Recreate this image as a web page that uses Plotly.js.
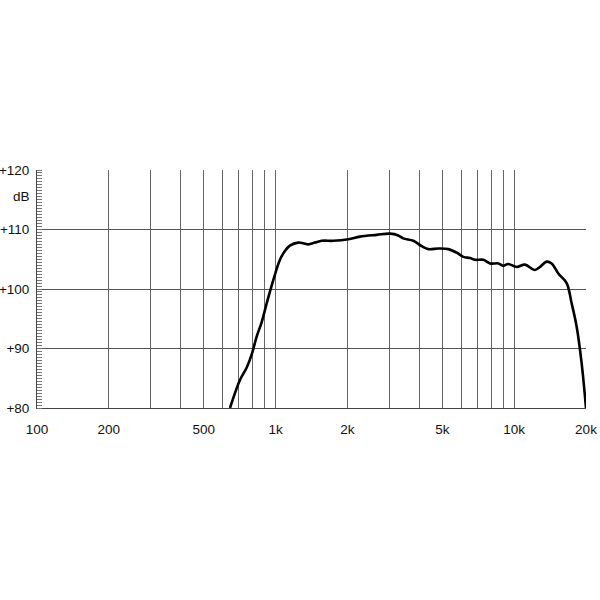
<!DOCTYPE html>
<html>
<head>
<meta charset="utf-8">
<script src="https://cdn.plot.ly/plotly-3.0.1.min.js"></script>
<style>html,body{margin:0;padding:0;background:#fff;}#chart{width:600px;height:600px;}</style>
</head>
<body>
<div id="chart"></div>
<script>
// Frequency response (Hz) and level (dB)
const freq = [644, 709, 757, 794, 833, 874, 918, 978, 1043, 1094, 1148, 1245, 1306, 1372, 1463, 1561, 1746, 2018, 2259, 2654, 3016, 3268, 3428, 3777, 4095, 4366, 4810, 5297, 5745, 6124, 6532, 6855, 7430, 7925, 8580, 8998, 9441, 10240, 11090, 12210, 12820, 13680, 14350, 15310, 16590, 17410, 18270, 19180, 20000];
const level = [80, 84.7, 86.8, 89.0, 92.0, 94.4, 97.6, 101.5, 104.9, 106.4, 107.3, 107.8, 107.7, 107.5, 107.8, 108.1, 108.1, 108.35, 108.8, 109.1, 109.3, 109.0, 108.5, 108.1, 107.2, 106.7, 106.8, 106.7, 106.1, 105.4, 105.2, 104.9, 104.9, 104.3, 104.3, 103.9, 104.2, 103.7, 104.1, 103.2, 103.7, 104.6, 104.3, 102.6, 101.0, 97.6, 93.7, 87.5, 80];

const xGrid = [100, 200, 300, 400, 500, 600, 700, 800, 900, 1000, 2000, 3000, 4000, 5000, 6000, 7000, 8000, 9000, 10000, 20000];
const xLabels = {100: '100', 200: '200', 500: '500', 1000: '1k', 2000: '2k', 5000: '5k', 10000: '10k', 20000: '20k'};
const yTicks = [80, 90, 100, 110, 120];
const yLabels = ['+80', '+90', '+100', '+110', '+120'];
const yUnit = 'dB';

const font = {family: 'Liberation Sans, Arial, sans-serif', size: 13.5, color: '#111'};

Plotly.newPlot('chart', [{
  x: freq, y: level, type: 'scatter', mode: 'lines',
  line: {color: '#000', width: 2.6, shape: 'spline', smoothing: 1},
  hoverinfo: 'skip', cliponaxis: true
}], {
  width: 600, height: 600,
  margin: {l: 37, r: 14, t: 170, b: 192},
  paper_bgcolor: '#fff', plot_bgcolor: '#fff',
  showlegend: false,
  font: font,
  xaxis: {
    type: 'log', range: [2, Math.log10(20000)],
    tickmode: 'array', tickvals: xGrid,
    ticktext: xGrid.map(v => xLabels[v] || ''),
    showgrid: true, gridcolor: '#666', gridwidth: 1,
    showline: true, linecolor: '#444', linewidth: 1,
    ticks: '', ticklabelstandoff: 9,
    zeroline: false, fixedrange: true
  },
  yaxis: {
    range: [80, 120],
    tickmode: 'array', tickvals: yTicks, ticktext: yLabels,
    showgrid: true, gridcolor: '#555', gridwidth: 1,
    showline: true, linecolor: '#444', linewidth: 1,
    ticks: '', ticklabelstandoff: 4,
    minor: {dtick: 0.5, ticks: 'inside', ticklen: 5, tickcolor: '#777', tickwidth: 1, showgrid: false},
    zeroline: false, fixedrange: true
  },
  annotations: [{
    text: yUnit, xref: 'paper', yref: 'y', x: 0, y: 115.5,
    xanchor: 'right', yanchor: 'middle', xshift: -5, showarrow: false, font: font
  }]
}, {staticPlot: true});
</script>
</body>
</html>
